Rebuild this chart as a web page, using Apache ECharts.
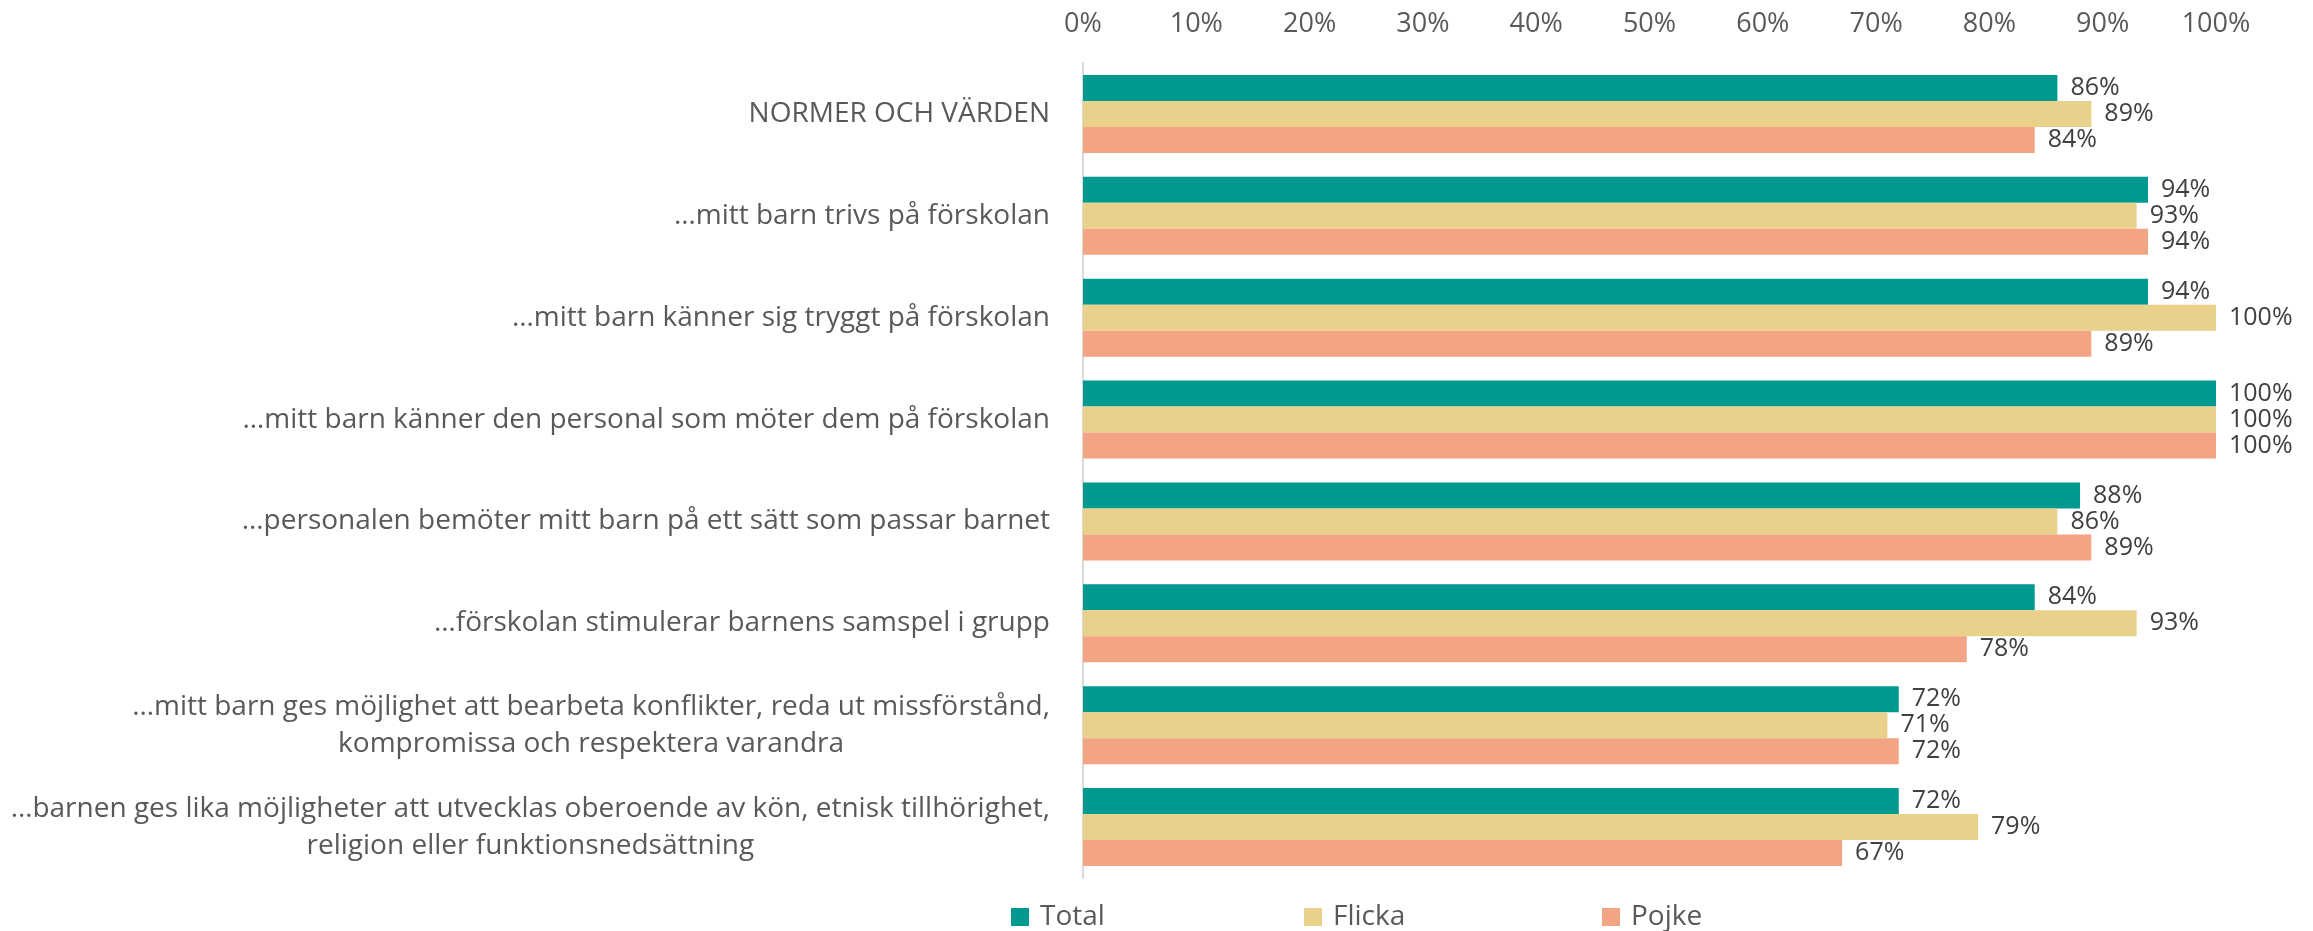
<!DOCTYPE html>
<html lang="sv">
<head>
  <meta charset="UTF-8">
  <title>Normer och värden</title>
  <style>
    html, body { margin: 0; padding: 0; background: #fff; }
    #main { width: 2313px; height: 931px; }
  </style>
</head>
<body>
  <div id="main"></div>
  <script src="https://cdn.jsdelivr.net/npm/echarts@6/dist/echarts.min.js"></script>
  <script>
    const categories = [
      'NORMER OCH VÄRDEN',
      '…mitt barn trivs på förskolan',
      '…mitt barn känner sig tryggt på förskolan',
      '…mitt barn känner den personal som möter dem på förskolan',
      '…personalen bemöter mitt barn på ett sätt som passar barnet',
      '…förskolan stimulerar barnens samspel i grupp',
      '…mitt barn ges möjlighet att bearbeta konflikter, reda ut missförstånd,\nkompromissa och respektera varandra',
      '…barnen ges lika möjligheter att utvecklas oberoende av kön, etnisk tillhörighet,\nreligion eller funktionsnedsättning'
    ]
    const seriesNames = ['Total', 'Flicka', 'Pojke']
    const total = [86, 94, 94, 100, 88, 84, 72, 72]
    const flicka = [89, 93, 100, 100, 86, 93, 71, 79]
    const pojke = [84, 94, 89, 100, 89, 78, 72, 67]
    const colors = ['#00998F', '#E9D18B', '#F3A485']

    const font = "'Open Sans', sans-serif"
    const myChart = echarts.init(document.getElementById('main'))

    function barSeries(name, data, color) {
      return {
        name: name,
        type: 'bar',
        data: data,
        barGap: '0%',
        barCategoryGap: '23.5%',
        itemStyle: { color: color },
        label: {
          show: true,
          position: 'right',
          distance: 13,
          formatter: '{c}%',
          color: '#404040',
          fontSize: 25,
          fontFamily: font
        }
      }
    }

    // one legend per item so they sit at the same spacing as the original
    const legendLeft = [1011, 1304, 1602]
    const legends = seriesNames.map(function (name, i) {
      return {
        data: [name],
        left: legendLeft[i],
        top: 903,
        padding: 0,
        itemWidth: 18,
        itemHeight: 18,
        itemGap: 0,
        icon: 'rect',
        textStyle: { color: '#595959', fontSize: 28, fontFamily: font, padding: [0, 0, 0, 6] }
      }
    })

    const option = {
      animation: false,
      color: colors,
      grid: { left: 1083, right: 97, top: 63, bottom: 53, containLabel: false },
      legend: legends,
      xAxis: {
        type: 'value',
        position: 'top',
        min: 0,
        max: 100,
        interval: 10,
        axisLine: { show: false },
        axisTick: { show: false },
        splitLine: { show: false },
        axisLabel: {
          formatter: '{value}%',
          color: '#595959',
          fontSize: 27,
          fontFamily: font,
          margin: 25
        }
      },
      yAxis: {
        type: 'category',
        data: categories,
        inverse: true,
        axisLine: { show: true, lineStyle: { color: '#D9D9D9', width: 2 } },
        axisTick: { show: false },
        axisLabel: {
          margin: 33,
          align: 'right',
          formatter: function (v) { return '{c|' + v.replace('\n', '}\n{c|') + '}' },
          rich: {
            c: { align: 'center', color: '#595959', fontSize: 28, fontFamily: font, lineHeight: 37 }
          }
        }
      },
      series: [
        barSeries(seriesNames[0], total, colors[0]),
        barSeries(seriesNames[1], flicka, colors[1]),
        barSeries(seriesNames[2], pojke, colors[2])
      ]
    }

    myChart.setOption(option)
  </script>
</body>
</html>
